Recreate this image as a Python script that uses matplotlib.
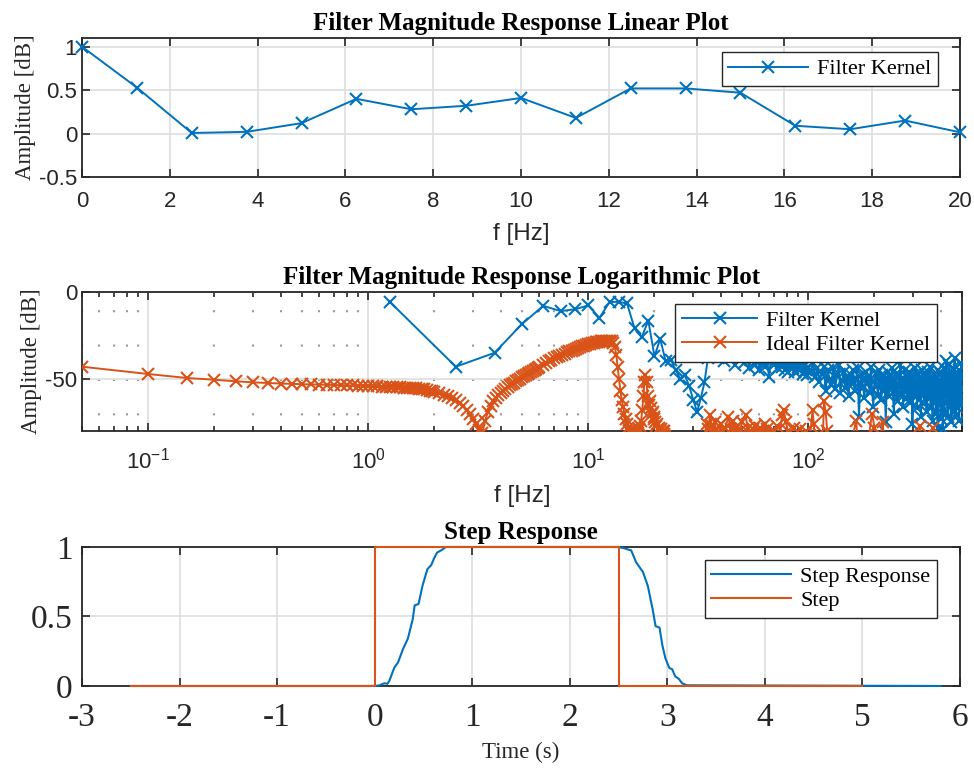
import numpy as np
import matplotlib
matplotlib.use('Agg')
import matplotlib.pyplot as plt
from matplotlib.ticker import FormatStrFormatter, LogLocator, NullFormatter

BLUE = '#0072BD'
ORANGE = '#D95319'
DARK = '#262626'
SERIF = 'Liberation Serif'
SANS = 'Liberation Sans'

plt.rcParams['font.family'] = SANS
plt.rcParams['axes.unicode_minus'] = False
plt.rcParams['mathtext.fontset'] = 'custom'
plt.rcParams['mathtext.rm'] = SANS
plt.rcParams['mathtext.it'] = SANS + ':italic'
plt.rcParams['mathtext.bf'] = SANS + ':bold'
plt.rcParams['mathtext.default'] = 'regular'

# ---- linear magnitude of the filter kernel (1.25 Hz bins) ----
kernel_f = np.arange(0, 20.01, 1.25)
kernel_amp = [1.0, 0.53, 0.007, 0.02, 0.12, 0.40, 0.28, 0.32, 0.41, 0.18,
              0.52, 0.52, 0.47, 0.09, 0.05, 0.15, 0.015]

# ---- filter kernel in dB, log plot ----
kernel_db_f = np.concatenate([np.arange(1.25, 100.01, 1.25),
                              np.arange(102.5, 500.01, 2.5)])
kernel_db_low = [
    -5.5, -43, -35, -18.4, -8, -11, -9.9, -7.7, -14.9, -5.7,
    -5.7, -6.6, -21, -26, -16.5, -37,
    -27, -40, -39, -45, -50, -48, -54, -62, -69, -61, -52, -38,
    -33, -36, -30, -35, -40, -32, -38, -36, -42, -34,
    -39, -37, -41, -35, -44, -38, -36, -42, -39, -45,
    -37, -41, -43, -38, -49, -40, -36, -42, -39, -44,
    -37, -41, -43, -38, -45, -40, -46, -39, -42, -44,
    -41, -46, -40, -43, -45, -41, -44, -47, -42, -45,
    -48, -43,
]
kernel_db_high = [
    -46, -41, -49, -44, -52, -47, -43, -57, -45, -50,
    -53, -44, -56, -48, -42, -58, -51, -46, -55, -49,
    -60, -47, -53, -45, -57, -50, -44, -72, -52, -48,
    -55, -61, -46, -53, -49, -58, -43, -56, -66, -51,
    -47, -54, -59, -45, -52, -62, -48, -57, -50, -75,
    -53, -46, -60, -49, -55, -44, -58, -70, -51, -47,
    -56, -63, -48, -54, -42, -59, -50, -66, -53, -45,
    -57, -49, -61, -52, -46, -64, -55, -48, -76, -58,
    -50, -44, -60, -53, -67, -47, -56, -62, -49, -72,
    -54, -45, -59, -51, -64, -48, -57, -69, -52, -46,
    -61, -55, -43, -66, -50, -58, -74, -53, -47, -63,
    -56, -70, -49, -60, -78, -45, -65, -52, -58, -73,
    -47, -62, -55, -79, -44, -68, -51, -60, -40, -57,
    -64, -48, -72, -53, -42, -66, -58, -46, -75, -54,
    -61, -44, -69, -50, -38, -63, -56, -71, -47, -59,
    -52, -67, -45, -74, -58, -49, -65, -41, -60, -55,
]

# ---- ideal filter kernel in dB ----
ideal_f_a = np.round(np.arange(0.05, 2.001, 0.05), 2)
ideal_db_a = [
    -43, -47.2, -49.5, -50.5, -51.4, -52.0, -52.4, -52.7, -52.9, -53.1,
    -53.2, -53.3, -53.4, -53.5, -53.6, -53.7, -53.8, -53.9, -54.0, -54.1,
    -54.2, -54.3, -54.4, -54.5, -54.6, -54.7, -54.8, -54.9, -55.0, -55.1,
    -55.2, -55.3, -55.4, -55.6, -55.8, -56.1, -56.4, -56.8, -57.2, -57.6,
]
ideal_f_b = np.round(np.arange(2.1, 6.001, 0.1), 2)
ideal_db_b = [
    -58.3, -59.1, -60.0, -61.0, -62.2, -63.6, -65.4, -67.8, -70.4, -73.0,
    -76, -79.5, -81, -74, -69, -65.5, -63, -61, -59.5, -58,
    -56.8, -55.7, -54.7, -53.8, -52.9, -52.1, -51.3, -50.5, -49.8, -49.1,
    -48.4, -47.7, -47.1, -46.5, -45.9, -45.3, -44.7, -44.1, -43.5, -43.0,
]
ideal_f_c = np.round(np.arange(6.2, 24.001, 0.2), 2)
ideal_db_c = [
    -42, -41, -40, -39, -38, -37.3, -36.6, -36, -35.4, -34.8,
    -34.2, -33.7, -33.2, -32.7, -32.2, -31.7, -31.3, -30.9, -30.5, -30.1,
    -29.8, -29.5, -29.2, -28.9, -28.7, -28.5, -28.3, -28.2, -28.1, -28.0,
    -28.0, -28.0, -28.1, -28.4, -29.5, -31.5, -36, -43, -50, -57,
    -62, -66, -70, -73, -76, -78, -80, -81, -79, -81,
    -80, -82, -80, -81, -79, -77, -74, -68, -60, -52,
    -48, -52, -60, -65, -63, -67, -70, -69, -73, -72,
    -75, -77, -76, -79, -78, -80, -79, -81, -80, -82,
    -80, -83, -85, -88, -90, -92, -95, -97, -99, -100,
]
ideal_tail_f = [24.5, 28, 33, 34.5, 35, 35.8, 36.4, 37, 37.5, 38,
                39, 40, 41, 42, 43.4, 44.5, 45.5, 46.5, 47.5, 49,
                50, 51.9, 53, 54.5, 56, 57.5, 59, 60.5, 62, 63.5,
                65, 66.5, 68, 70, 72, 74, 76, 77.6, 79, 81,
                83, 86, 89, 92, 95, 98, 101, 104.6, 106, 108,
                112, 116, 118, 120, 122, 126, 135, 145, 155, 165,
                170, 185, 195, 200, 205, 218, 225, 260, 300, 322,
                330, 360, 370, 380, 420, 500]
ideal_tail_db = [-100, -95, -90, -76, -79, -71, -77, -81, -75, -79,
                 -82, -76, -80, -78, -72, -79, -74, -81, -77, -80,
                 -75, -71, -78, -82, -79, -77, -81, -78, -80, -76,
                 -79, -82, -88, -80, -77, -84, -71, -68, -75, -80,
                 -86, -78, -85, -79, -90, -80, -88, -68, -76, -90,
                 -82, -90, -63, -69, -80, -95, -90, -95, -90, -74,
                 -95, -90, -70, -78, -95, -75, -95, -92, -95, -77,
                 -95, -95, -78, -95, -100, -100]

# ---- step response ----
step_t = [-2.5, 0, 0, 2.5, 2.5, 5]
step_v = [0, 0, 1, 1, 0, 0]
resp_t = [-2.5, 0.0, 0.05, 0.1, 0.13, 0.15, 0.2, 0.24, 0.29, 0.34, 0.39,
          0.41, 0.45, 0.49, 0.54, 0.58, 0.61, 0.64, 0.68, 0.73, 0.8,
          2.45, 2.5, 2.56, 2.63, 2.68, 2.75, 2.8, 2.85, 2.88, 2.92,
          2.95, 2.98, 3.02, 3.05, 3.08, 3.12, 3.15, 3.2, 5.8]
resp_v = [0, 0, 0.005, 0.02, 0.015, 0.036, 0.13, 0.17, 0.265, 0.34, 0.48,
          0.58, 0.59, 0.72, 0.84, 0.87, 0.92, 0.96, 0.975, 1.0, 1.0,
          1.0, 1.0, 0.99, 0.975, 0.89, 0.82, 0.72, 0.55, 0.43, 0.42,
          0.29, 0.2, 0.13, 0.12, 0.07, 0.05, 0.02, 0.005, 0]

ideal_f = np.concatenate([ideal_f_a, ideal_f_b, ideal_f_c, ideal_tail_f])
ideal_db = np.concatenate([ideal_db_a, ideal_db_b, ideal_db_c, ideal_tail_db])
kernel_db = np.concatenate([kernel_db_low, kernel_db_high])

serif_legend = dict(family=SERIF, size=16)


def style_axes(ax, tick_family, tick_size):
    for s in ax.spines.values():
        s.set_linewidth(1.3)
        s.set_color(DARK)
        s.set_zorder(2)
    ax.tick_params(which='both', direction='in', top=True, right=True,
                   color=DARK, labelcolor=DARK, width=1.2)
    ax.tick_params(which='major', length=6)
    ax.tick_params(which='minor', length=3.5)
    for lab in ax.get_xticklabels() + ax.get_yticklabels():
        lab.set_family(tick_family)
        lab.set_fontsize(tick_size)
    ax.set_axisbelow(True)


def add_legend(ax, anchor, hl):
    leg = ax.legend(loc='upper right', bbox_to_anchor=anchor, borderaxespad=0,
                    fancybox=False, framealpha=1, edgecolor=DARK, prop=serif_legend,
                    handlelength=hl, handletextpad=0.4, borderpad=0.3,
                    labelspacing=0.15, numpoints=1)
    leg.get_frame().set_linewidth(1.0)
    leg.set_zorder(5)
    return leg


fig = plt.figure(figsize=(9.74, 7.68), dpi=100)
grid_kw = dict(color='#dedede', linewidth=1.2, linestyle='-')
line_kw = dict(lw=1.4, marker='x', ms=9, mew=1.5, zorder=3)

# ---------- linear plot ----------
ax1 = fig.add_axes([0.0842, 0.7695, 0.9014, 0.181])
ax1.plot(kernel_f, kernel_amp, color=BLUE, label='Filter Kernel', clip_on=False, **line_kw)
ax1.set_xlim(0, 20)
ax1.set_ylim(-0.5, 1.1)
ax1.set_xticks(np.arange(0, 21, 2))
ax1.set_yticks([-0.5, 0, 0.5, 1])
ax1.xaxis.set_major_formatter(FormatStrFormatter('%g'))
ax1.yaxis.set_major_formatter(FormatStrFormatter('%g'))
ax1.grid(True, **grid_kw)
ax1.set_title('Filter Magnitude Response Linear Plot', family=SERIF,
              fontsize=18, fontweight='bold', pad=6)
ax1.set_xlabel('f [Hz]', family=SANS, fontsize=17.5, color=DARK, labelpad=8)
ax1.set_ylabel('Amplitude [dB]', family=SERIF, fontsize=16.5, color=DARK, labelpad=2)
ax1.tick_params(axis='x', pad=10)
style_axes(ax1, SANS, 16)
add_legend(ax1, (0.975, 0.899), 3.6)

# ---------- logarithmic plot ----------
ax2 = fig.add_axes([0.0842, 0.4388, 0.9035, 0.181])
ax2.semilogx(kernel_db_f, kernel_db, color=BLUE, label='Filter Kernel', **line_kw)
ax2.semilogx(ideal_f, ideal_db, color=ORANGE, label='Ideal Filter Kernel', **line_kw)
ax2.set_xlim(0.05, 500)
ax2.set_ylim(-80, 0)
ax2.set_yticks([-50, 0])
ax2.yaxis.set_major_formatter(FormatStrFormatter('%g'))
ax2.xaxis.set_major_locator(LogLocator(base=10, numticks=10))
ax2.xaxis.set_minor_locator(LogLocator(base=10, subs=np.arange(2, 10), numticks=20))
ax2.xaxis.set_minor_formatter(NullFormatter())
ax2.grid(True, which='major', **grid_kw)
ax2.xaxis.grid(True, which='minor', color='#9a9a9a', linewidth=1.5,
               linestyle=(9, (1.0, 15.5)))
ax2.set_title('Filter Magnitude Response Logarithmic Plot', family=SERIF,
              fontsize=18, fontweight='bold', pad=6)
ax2.set_xlabel('f [Hz]', family=SANS, fontsize=17.5, color=DARK, labelpad=8)
ax2.set_ylabel('Amplitude [dB]', family=SERIF, fontsize=16.5, color=DARK, labelpad=2)
ax2.tick_params(axis='x', pad=12)
style_axes(ax2, SANS, 16)
add_legend(ax2, (0.9716, 0.914), 3.4)

# ---------- step response ----------
ax3 = fig.add_axes([0.0842, 0.1068, 0.9014, 0.181])
ax3.plot(resp_t, resp_v, color=BLUE, lw=1.5, label='Step Response', clip_on=False, zorder=3)
ax3.plot(step_t, step_v, color=ORANGE, lw=1.5, label='Step', clip_on=False, zorder=3)
ax3.set_xlim(-3, 6)
ax3.set_ylim(0, 1)
ax3.set_xticks(np.arange(-3, 7, 1))
ax3.set_yticks([0, 0.5, 1])
ax3.xaxis.set_major_formatter(FormatStrFormatter('%g'))
ax3.yaxis.set_major_formatter(FormatStrFormatter('%g'))
ax3.grid(True, **grid_kw)
ax3.set_title('Step Response', family=SERIF, fontsize=18, fontweight='bold', pad=6)
ax3.set_xlabel('Time (s)', family=SERIF, fontsize=16.5, color=DARK, labelpad=6)
ax3.tick_params(axis='x', pad=12)
ax3.tick_params(axis='y', pad=7)
style_axes(ax3, SERIF, 24)
add_legend(ax3, (0.974, 0.906), 3.6)

fig.savefig('out.png', dpi=100)
